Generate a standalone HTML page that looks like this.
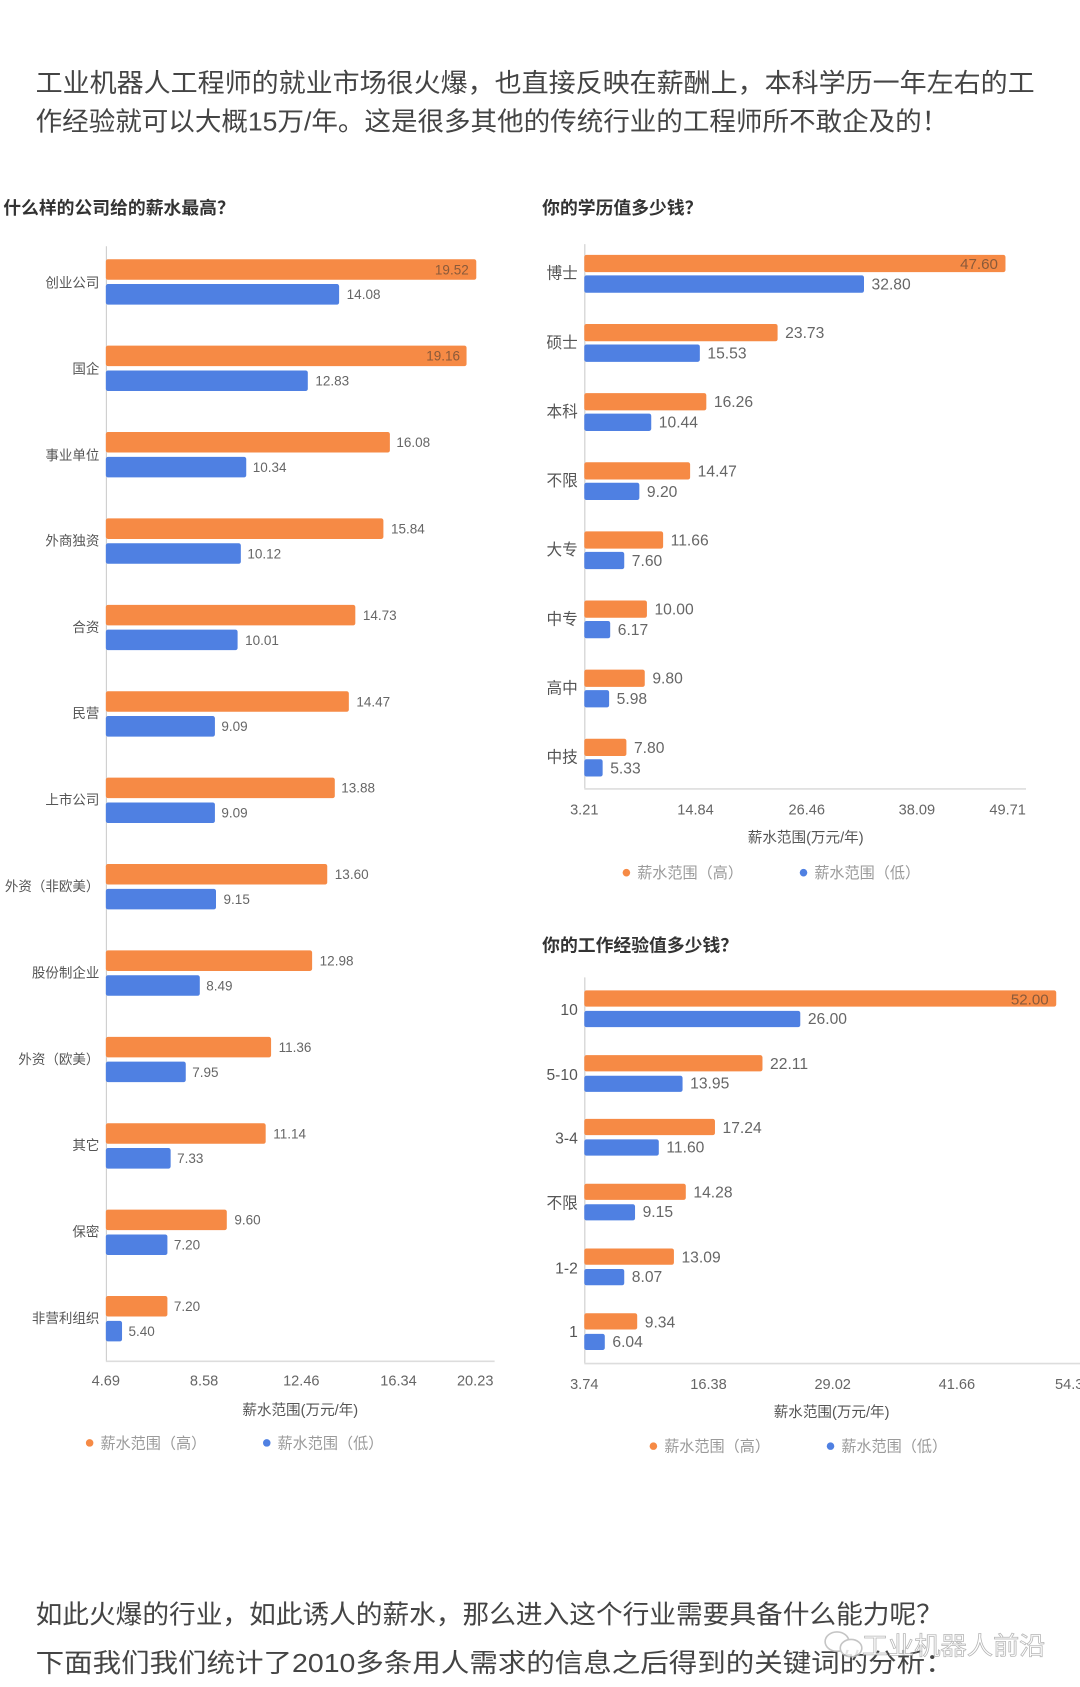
<!DOCTYPE html>
<html><head><meta charset="utf-8"><style>
html,body{margin:0;padding:0;background:#fff;width:1080px;height:1687px;overflow:hidden}
svg{display:block}
text{font-family:"Liberation Sans","Noto Sans CJK SC",sans-serif}
.o{fill:#F68A45}.b{fill:#4F80E2}
.v{font-size:12.5px;fill:#666}
.vr{font-size:14.5px;fill:#666}
.vi{font-size:12.5px;fill:#8a5a3a}
.c{font-size:12.5px;fill:#555;text-anchor:end}
.cr{font-size:14.5px;fill:#555;text-anchor:end}
.t{font-size:13.5px;fill:#666;text-anchor:middle}
.lg{font-size:14px;fill:#9a9a9a}
.h{font-size:16.5px;font-weight:bold;fill:#333}
.p{font-size:24px;fill:#444}
</style></head><body>
<svg width="1080" height="1687" viewBox="0 0 1000 1562" xmlns="http://www.w3.org/2000/svg">
<text class="p" x="33" y="85" textLength="925" lengthAdjust="spacingAndGlyphs">工业机器人工程师的就业市场很火爆，也直接反映在薪酬上，本科学历一年左右的工</text>
<text class="p" x="33" y="121" textLength="845" lengthAdjust="spacingAndGlyphs">作经验就可以大概15万/年。这是很多其他的传统行业的工程师所不敢企及的！</text>

<!-- LEFT CHART -->
<text class="h" x="3" y="198">什么样的公司给的薪水最高？</text>
<line x1="98.5" y1="228" x2="98.5" y2="1260" stroke="#ccc"/>
<line x1="98" y1="1260.5" x2="458" y2="1260.5" stroke="#ddd" stroke-width="1.5"/>
<g>
<rect class="o" x="98" y="240" width="343" height="19" rx="2"/><rect class="b" x="98" y="263" width="216" height="19" rx="2"/>
<text class="vi" x="434" y="254" text-anchor="end">19.52</text><text class="v" x="321" y="277">14.08</text><text class="c" x="92" y="266">创业公司</text>
<rect class="o" x="98" y="320" width="334" height="19" rx="2"/><rect class="b" x="98" y="343" width="187" height="19" rx="2"/>
<text class="vi" x="426" y="334" text-anchor="end">19.16</text><text class="v" x="292" y="357">12.83</text><text class="c" x="92" y="346">国企</text>
<rect class="o" x="98" y="400" width="263" height="19" rx="2"/><rect class="b" x="98" y="423" width="130" height="19" rx="2"/>
<text class="v" x="367" y="414">16.08</text><text class="v" x="234" y="437">10.34</text><text class="c" x="92" y="426">事业单位</text>
<rect class="o" x="98" y="480" width="257" height="19" rx="2"/><rect class="b" x="98" y="503" width="125" height="19" rx="2"/>
<text class="v" x="362" y="494">15.84</text><text class="v" x="229" y="517">10.12</text><text class="c" x="92" y="505">外商独资</text>
<rect class="o" x="98" y="560" width="231" height="19" rx="2"/><rect class="b" x="98" y="583" width="122" height="19" rx="2"/>
<text class="v" x="336" y="574">14.73</text><text class="v" x="227" y="597">10.01</text><text class="c" x="92" y="585">合资</text>
<rect class="o" x="98" y="640" width="225" height="19" rx="2"/><rect class="b" x="98" y="663" width="101" height="19" rx="2"/>
<text class="v" x="330" y="654">14.47</text><text class="v" x="205" y="677">9.09</text><text class="c" x="92" y="665">民营</text>
<rect class="o" x="98" y="720" width="212" height="19" rx="2"/><rect class="b" x="98" y="743" width="101" height="19" rx="2"/>
<text class="v" x="316" y="734">13.88</text><text class="v" x="205" y="757">9.09</text><text class="c" x="92" y="745">上市公司</text>
<rect class="o" x="98" y="800" width="205" height="19" rx="2"/><rect class="b" x="98" y="823" width="102" height="19" rx="2"/>
<text class="v" x="310" y="814">13.60</text><text class="v" x="207" y="837">9.15</text><text class="c" x="92" y="825">外资（非欧美）</text>
<rect class="o" x="98" y="880" width="191" height="19" rx="2"/><rect class="b" x="98" y="903" width="87" height="19" rx="2"/>
<text class="v" x="296" y="894">12.98</text><text class="v" x="191" y="917">8.49</text><text class="c" x="92" y="905">股份制企业</text>
<rect class="o" x="98" y="960" width="153" height="19" rx="2"/><rect class="b" x="98" y="983" width="74" height="19" rx="2"/>
<text class="v" x="258" y="974">11.36</text><text class="v" x="178" y="997">7.95</text><text class="c" x="92" y="985">外资（欧美）</text>
<rect class="o" x="98" y="1040" width="148" height="19" rx="2"/><rect class="b" x="98" y="1063" width="60" height="19" rx="2"/>
<text class="v" x="253" y="1054">11.14</text><text class="v" x="164" y="1077">7.33</text><text class="c" x="92" y="1065">其它</text>
<rect class="o" x="98" y="1120" width="112" height="19" rx="2"/><rect class="b" x="98" y="1143" width="57" height="19" rx="2"/>
<text class="v" x="217" y="1134">9.60</text><text class="v" x="161" y="1157">7.20</text><text class="c" x="92" y="1145">保密</text>
<rect class="o" x="98" y="1200" width="57" height="19" rx="2"/><rect class="b" x="98" y="1223" width="15" height="19" rx="2"/>
<text class="v" x="161" y="1214">7.20</text><text class="v" x="119" y="1237">5.40</text><text class="c" x="92" y="1225">非营利组织</text>
</g>
<text class="t" x="98" y="1283">4.69</text><text class="t" x="189" y="1283">8.58</text><text class="t" x="279" y="1283">12.46</text><text class="t" x="369" y="1283">16.34</text><text class="t" x="440" y="1283">20.23</text>
<text class="t" x="278" y="1310" style="fill:#555">薪水范围(万元/年)</text>
<circle cx="83" cy="1336" r="3.5" class="o"/><text class="lg" x="93" y="1341">薪水范围（高）</text>
<circle cx="247" cy="1336" r="3.5" class="b"/><text class="lg" x="257" y="1341">薪水范围（低）</text>

<!-- RIGHT CHART 1 -->
<text class="h" x="502" y="198">你的学历值多少钱？</text>
<line x1="541.5" y1="226" x2="541.5" y2="730" stroke="#ccc"/>
<line x1="541" y1="730.5" x2="950" y2="730.5" stroke="#ddd" stroke-width="1.5"/>
<g>
<rect class="o" x="541" y="236" width="390" height="16" rx="2"/><rect class="b" x="541" y="255" width="259" height="16" rx="2"/>
<text class="vi" x="924" y="249" text-anchor="end" style="font-size:14px">47.60</text><text class="vr" x="807" y="268">32.80</text><text class="cr" x="535" y="258">博士</text>
<rect class="o" x="541" y="300" width="179" height="16" rx="2"/><rect class="b" x="541" y="319" width="107" height="16" rx="2"/>
<text class="vr" x="727" y="313">23.73</text><text class="vr" x="655" y="332">15.53</text><text class="cr" x="535" y="322">硕士</text>
<rect class="o" x="541" y="364" width="113" height="16" rx="2"/><rect class="b" x="541" y="383" width="62" height="16" rx="2"/>
<text class="vr" x="661" y="377">16.26</text><text class="vr" x="610" y="396">10.44</text><text class="cr" x="535" y="386">本科</text>
<rect class="o" x="541" y="428" width="98" height="16" rx="2"/><rect class="b" x="541" y="447" width="51" height="16" rx="2"/>
<text class="vr" x="646" y="441">14.47</text><text class="vr" x="599" y="460">9.20</text><text class="cr" x="535" y="450">不限</text>
<rect class="o" x="541" y="492" width="73" height="16" rx="2"/><rect class="b" x="541" y="511" width="37" height="16" rx="2"/>
<text class="vr" x="621" y="505">11.66</text><text class="vr" x="585" y="524">7.60</text><text class="cr" x="535" y="514">大专</text>
<rect class="o" x="541" y="556" width="58" height="16" rx="2"/><rect class="b" x="541" y="575" width="24" height="16" rx="2"/>
<text class="vr" x="606" y="569">10.00</text><text class="vr" x="572" y="588">6.17</text><text class="cr" x="535" y="578">中专</text>
<rect class="o" x="541" y="620" width="56" height="16" rx="2"/><rect class="b" x="541" y="639" width="23" height="16" rx="2"/>
<text class="vr" x="604" y="633">9.80</text><text class="vr" x="571" y="652">5.98</text><text class="cr" x="535" y="642">高中</text>
<rect class="o" x="541" y="684" width="39" height="16" rx="2"/><rect class="b" x="541" y="703" width="17" height="16" rx="2"/>
<text class="vr" x="587" y="697">7.80</text><text class="vr" x="565" y="716">5.33</text><text class="cr" x="535" y="706">中技</text>
</g>
<text class="t" x="541" y="754">3.21</text><text class="t" x="644" y="754">14.84</text><text class="t" x="747" y="754">26.46</text><text class="t" x="849" y="754">38.09</text><text class="t" x="933" y="754">49.71</text>
<text class="t" x="746" y="780" style="fill:#555">薪水范围(万元/年)</text>
<circle cx="580" cy="808" r="3.5" class="o"/><text class="lg" x="590" y="813">薪水范围（高）</text>
<circle cx="744" cy="808" r="3.5" class="b"/><text class="lg" x="754" y="813">薪水范围（低）</text>

<!-- RIGHT CHART 2 -->
<text class="h" x="502" y="881">你的工作经验值多少钱？</text>
<line x1="541.5" y1="905" x2="541.5" y2="1262" stroke="#ccc"/>
<line x1="541" y1="1262.5" x2="1000" y2="1262.5" stroke="#ddd" stroke-width="1.5"/>
<g>
<rect class="o" x="541" y="917" width="437" height="15" rx="2"/><rect class="b" x="541" y="936" width="200" height="15" rx="2"/>
<text class="vi" x="971" y="930" text-anchor="end" style="font-size:14px">52.00</text><text class="vr" x="748" y="948">26.00</text><text class="cr" x="535" y="940">10</text>
<rect class="o" x="541" y="977" width="165" height="15" rx="2"/><rect class="b" x="541" y="996" width="91" height="15" rx="2"/>
<text class="vr" x="713" y="990">22.11</text><text class="vr" x="639" y="1008">13.95</text><text class="cr" x="535" y="1000">5-10</text>
<rect class="o" x="541" y="1036" width="121" height="15" rx="2"/><rect class="b" x="541" y="1055" width="69" height="15" rx="2"/>
<text class="vr" x="669" y="1049">17.24</text><text class="vr" x="617" y="1067">11.60</text><text class="cr" x="535" y="1059">3-4</text>
<rect class="o" x="541" y="1096" width="94" height="15" rx="2"/><rect class="b" x="541" y="1115" width="47" height="15" rx="2"/>
<text class="vr" x="642" y="1109">14.28</text><text class="vr" x="595" y="1127">9.15</text><text class="cr" x="535" y="1119">不限</text>
<rect class="o" x="541" y="1156" width="83" height="15" rx="2"/><rect class="b" x="541" y="1175" width="37" height="15" rx="2"/>
<text class="vr" x="631" y="1169">13.09</text><text class="vr" x="585" y="1187">8.07</text><text class="cr" x="535" y="1179">1-2</text>
<rect class="o" x="541" y="1216" width="49" height="15" rx="2"/><rect class="b" x="541" y="1235" width="19" height="15" rx="2"/>
<text class="vr" x="597" y="1229">9.34</text><text class="vr" x="567" y="1247">6.04</text><text class="cr" x="535" y="1238">1</text>
</g>
<text class="t" x="541" y="1286">3.74</text><text class="t" x="656" y="1286">16.38</text><text class="t" x="771" y="1286">29.02</text><text class="t" x="886" y="1286">41.66</text><text class="t" x="990" y="1286">54.3</text>
<text class="t" x="770" y="1312" style="fill:#555">薪水范围(万元/年)</text>
<circle cx="605" cy="1339" r="3.5" class="o"/><text class="lg" x="615" y="1344">薪水范围（高）</text>
<circle cx="769" cy="1339" r="3.5" class="b"/><text class="lg" x="779" y="1344">薪水范围（低）</text>

<!-- bottom text -->
<text class="p" x="33" y="1503" textLength="840" lengthAdjust="spacingAndGlyphs">如此火爆的行业，如此诱人的薪水，那么进入这个行业需要具备什么能力呢？</text>
<text class="p" x="33" y="1548" textLength="850" lengthAdjust="spacingAndGlyphs">下面我们我们统计了2010多条用人需求的信息之后得到的关键词的分析：</text>
<g opacity="0.85">
<ellipse cx="775" cy="1520" rx="11" ry="9" fill="none" stroke="#bbb" stroke-width="1.5"/>
<ellipse cx="788" cy="1526" rx="10" ry="8" fill="#fff" stroke="#bbb" stroke-width="1.5"/>
<text x="798" y="1532" textLength="170" lengthAdjust="spacingAndGlyphs" style="font-size:23px;fill:#fff;stroke:#aaa;stroke-width:0.7px">工业机器人前沿</text>
</g>
</svg>
</body></html>
